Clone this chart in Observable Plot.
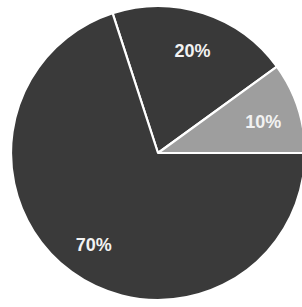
<!DOCTYPE html>
<html>
<head>
<meta charset="utf-8">
<script src="https://cdn.jsdelivr.net/npm/d3@7"></script>
<script src="https://cdn.jsdelivr.net/npm/@observablehq/plot@0.6"></script>
<style>
  html, body { margin: 0; padding: 0; background: #fff; }
</style>
</head>
<body>
<div id="chart"></div>
<script>
const categories = ["20%", "10%", "70%"];
const values = [20, 10, 70];
const colors = ["#393939", "#9e9e9e", "#3a3a3a"];

const W = 302, H = 307;
const cx = 158, cy = 153, R = 147;

const pie = d3.pie().sort(null)
  .startAngle(-18 * Math.PI / 180)
  .endAngle(342 * Math.PI / 180);
const arcsData = pie(values).map((a, i) => ({...a, label: categories[i], color: colors[i]}));

const labelR = 0.75;
const labels = arcsData.map(a => {
  const m = (a.startAngle + a.endAngle) / 2;
  return {label: a.label, x: labelR * Math.sin(m), y: labelR * Math.cos(m)};
});

const pieMark = (index, scales) => {
  const x0 = scales.x(0), y0 = scales.y(0);
  const rad = Math.abs(scales.x(1) - scales.x(0));
  const arc = d3.arc().innerRadius(0).outerRadius(rad);
  const g = d3.create("svg:g").attr("transform", `translate(${x0},${y0})`);
  g.selectAll("path").data(arcsData).join("path")
    .attr("d", arc)
    .attr("fill", d => d.color)
    .attr("stroke", "#fff")
    .attr("stroke-width", 2.2)
    .attr("stroke-linejoin", "round");
  return g.node();
};

const chart = Plot.plot({
  width: W,
  height: H,
  margin: 0,
  style: {background: "#fff"},
  x: {domain: [-1, 1], range: [cx - R, cx + R], axis: null},
  y: {domain: [-1, 1], range: [cy + R, cy - R], axis: null},
  marks: [
    pieMark,
    Plot.text(labels, {
      x: "x", y: "y", text: "label",
      dy: 3,
      fill: "#f2f2f2",
      fontSize: 18,
      fontWeight: "bold",
      fontFamily: "Liberation Sans, Arial, sans-serif"
    })
  ]
});
document.getElementById("chart").appendChild(chart);
</script>
</body>
</html>
